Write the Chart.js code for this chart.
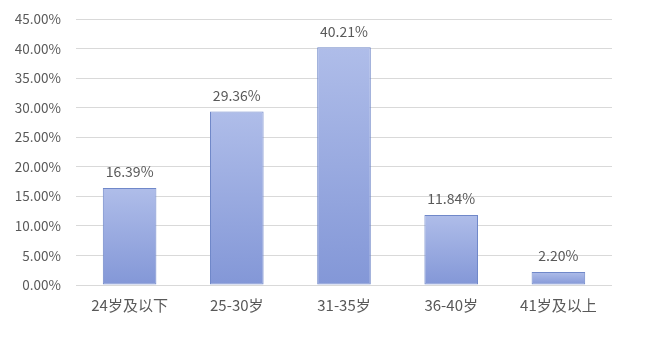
<!DOCTYPE html>
<html>
<head>
<meta charset="utf-8">
<script src="https://cdn.jsdelivr.net/npm/chart.js@4"></script>
<style>
  html, body { margin: 0; padding: 0; background: #fff; }
  #wrap { width: 649px; height: 352px; }
</style>
</head>
<body>
<div id="wrap"><canvas id="ageChart" width="649" height="352"></canvas></div>
<script>
const categories = ['24岁及以下', '25-30岁', '31-35岁', '36-40岁', '41岁及以上'];
const shares = [16.39, 29.36, 40.21, 11.84, 2.20];
const yMax = 45;
const yStep = 5;

const FONT = '"Microsoft YaHei", "Noto Sans CJK SC", sans-serif';
const TEXT = '#595959';

// value labels above each bar
const valueLabels = {
    id: 'valueLabels',
    afterDatasetsDraw(chart) {
        const { ctx } = chart;
        const meta = chart.getDatasetMeta(0);
        ctx.save();
        ctx.font = '14px ' + FONT;
        ctx.fillStyle = TEXT;
        ctx.textAlign = 'center';
        ctx.textBaseline = 'middle';
        meta.data.forEach((bar, i) => {
            ctx.fillText(shares[i].toFixed(2) + '%', bar.x, bar.y - 16);
        });
        ctx.restore();
    }
};

// each bar gets its own light-to-dark gradient, like the office fill
function barGradient(context) {
    const { chart } = context;
    const y = chart.scales && chart.scales.y;
    if (!y || context.raw === undefined || !chart.chartArea) return '#93a5dc';
    const top = y.getPixelForValue(context.raw);
    const bottom = y.getPixelForValue(0);
    const g = chart.ctx.createLinearGradient(0, top, 0, bottom + 0.01);
    g.addColorStop(0, '#afbde9');
    g.addColorStop(1, '#8397d7');
    return g;
}

const ctx = document.getElementById('ageChart').getContext('2d');
new Chart(ctx, {
    type: 'bar',
    data: {
        labels: categories,
        datasets: [{
            data: shares,
            backgroundColor: barGradient,
            borderColor: '#7088c9',
            borderWidth: 1,
            borderSkipped: false,
            categoryPercentage: 1,
            barPercentage: 0.5,
        }]
    },
    options: {
        responsive: false,
        animation: false,
        layout: { padding: { top: 19, right: 37, left: 0, bottom: 0 } },
        plugins: {
            legend: { display: false },
            tooltip: { enabled: false },
        },
        scales: {
            x: {
                grid: { display: false, drawTicks: false },
                border: { display: false },
                ticks: { color: TEXT, font: { family: FONT, size: 15 }, padding: 11, maxRotation: 0 },
                afterFit(scale) { scale.height = 67; }
            },
            y: {
                min: 0,
                max: yMax,
                grid: { color: '#d9d9d9', drawTicks: false },
                border: { display: false },
                ticks: {
                    stepSize: yStep,
                    color: TEXT,
                    font: { family: FONT, size: 13.5 },
                    padding: 15,
                    callback: v => v.toFixed(2) + '%'
                },
                afterFit(scale) {
                    scale.width = 76;
                    scale.paddingTop = 0;
                    scale.paddingBottom = 0;
                }
            }
        }
    },
    plugins: [valueLabels]
});
</script>
</body>
</html>
